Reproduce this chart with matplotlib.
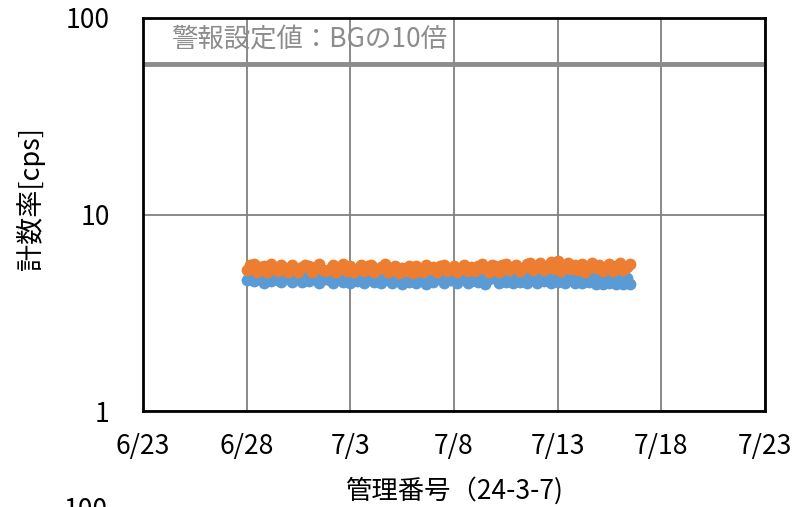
import matplotlib
matplotlib.use("Agg")
import matplotlib.pyplot as plt
import matplotlib.ticker as mticker
import pandas as pd

plt.rcParams['font.family'] = ['Noto Sans CJK JP', 'DejaVu Sans']

# ---- data ----
start_time = "2024-06-28 00:00"
sample_step = "4h"
orange_values = [
    5.20, 5.55, 5.62, 5.10, 5.38, 5.48,
    5.08, 5.58, 5.29, 5.15, 5.52, 5.33,
    5.12, 5.54, 5.36, 5.09, 5.41, 5.56,
    5.48, 5.11, 5.42, 5.60, 5.24, 5.13,
    5.29, 5.53, 5.07, 5.36, 5.58, 5.15,
    5.44, 5.09, 5.31, 5.55, 5.18, 5.46,
    5.52, 5.10, 5.28, 5.43, 5.57, 5.12,
    5.21, 5.50, 5.06, 5.33, 5.14, 5.45,
    5.06, 5.48, 5.22, 5.11, 5.54, 5.31,
    5.39, 5.08, 5.46, 5.54, 5.13, 5.35,
    5.47, 5.10, 5.29, 5.53, 5.15, 5.42,
    5.14, 5.50, 5.62, 5.26, 5.09, 5.53,
    5.45, 5.12, 5.51, 5.59, 5.21, 5.38,
    5.54, 5.16, 5.35, 5.57, 5.65, 5.19,
    5.46, 5.68, 5.22, 5.45, 5.72, 5.30,
    5.82, 5.18, 5.50, 5.65, 5.27, 5.55,
    5.23, 5.59, 5.11, 5.38, 5.64, 5.32,
    5.56, 5.17, 5.43, 5.60, 5.14, 5.46,
    5.68, 5.19, 5.40, 5.57,
]
blue_values = [
    4.62, 4.85, 4.58, 4.95, 4.71, 4.50,
    4.86, 4.58, 4.93, 4.64, 4.52, 4.89,
    4.74, 4.51, 4.96, 4.70, 4.55, 4.83,
    4.57, 4.88, 4.76, 4.50, 4.94, 4.72,
    4.65, 4.49, 4.91, 4.81, 4.52, 4.85,
    4.48, 4.94, 4.58, 4.80, 4.46, 4.73,
    4.91, 4.55, 4.79, 4.47, 4.90, 4.62,
    4.48, 4.90, 4.63, 4.45, 4.87, 4.56,
    4.82, 4.50, 4.91, 4.64, 4.45, 4.79,
    4.54, 4.87, 4.73, 4.46, 4.92, 4.63,
    4.90, 4.48, 4.75, 4.96, 4.47, 4.60,
    4.82, 4.51, 4.95, 4.44, 4.70, 4.88,
    4.74, 4.47, 4.92, 4.56, 4.86, 4.49,
    4.93, 4.55, 4.79, 4.48, 4.91, 4.63,
    4.47, 4.94, 4.58, 4.82, 4.50, 4.95,
    4.56, 4.90, 4.46, 4.71, 4.98, 4.50,
    4.89, 4.46, 4.82, 4.53, 4.91, 4.44,
    4.84, 4.43, 4.97, 4.50, 4.79, 4.45,
    4.92, 4.44, 4.78, 4.43,
]
alarm_level = 58
alarm_label = "警報設定値：BGの10倍"
x_ticks = ["2024-06-23", "2024-06-28", "2024-07-03", "2024-07-08",
           "2024-07-13", "2024-07-18", "2024-07-23"]
x_tick_labels = ["6/23", "6/28", "7/3", "7/8", "7/13", "7/18", "7/23"]
y_ticks = [1, 10, 100]
y_tick_labels = ["1", "10", "100"]
x_label = "管理番号（24-3-7)"
y_label = "計数率[cps]"

times = pd.date_range(start_time, periods=len(orange_values), freq=sample_step)

fig = plt.figure(figsize=(7.97, 5.07), dpi=100)
ax = fig.add_axes([0.1794, 0.1893, 0.7804, 0.7752])

grid_color = "#808080"
ax.set_yscale("log")
ax.set_ylim(1, 100)
xt = pd.to_datetime(x_ticks)
ax.set_xlim(xt[0], xt[-1])
ax.set_xticks(xt)
ax.set_xticklabels(x_tick_labels)
ax.set_yticks(y_ticks)
ax.set_yticklabels(y_tick_labels)
ax.yaxis.set_minor_locator(mticker.NullLocator())
ax.tick_params(length=0, labelsize=19, pad=16)
ax.tick_params(axis="y", pad=24)
ax.grid(True, color=grid_color, linewidth=1.3)
ax.set_axisbelow(True)
for s in ax.spines.values():
    s.set_linewidth(2)
    s.set_color("black")

ax.axhline(alarm_level, color="#8c8c8c", linewidth=3.5, zorder=2)
ax.text(0.046, 0.978, alarm_label, transform=ax.transAxes, ha="left", va="top",
        fontsize=19, color="#8c8c8c")

ax.plot(times, blue_values, linestyle="none", marker="o", markersize=8.5,
        markeredgewidth=0, color="#5B9BD5", zorder=3)
ax.plot(times, orange_values, linestyle="none", marker="o", markersize=8.5,
        markeredgewidth=0, color="#ED7D31", zorder=4)

ax.set_xlabel(x_label, fontsize=19, labelpad=12)
ax.set_ylabel(y_label, fontsize=19.5)
ax.yaxis.set_label_coords(-0.158, 0.54)

fig.text(0.108, 0.0195, "100", ha="center", va="top", fontsize=19)

fig.savefig("out.png", dpi=100)
